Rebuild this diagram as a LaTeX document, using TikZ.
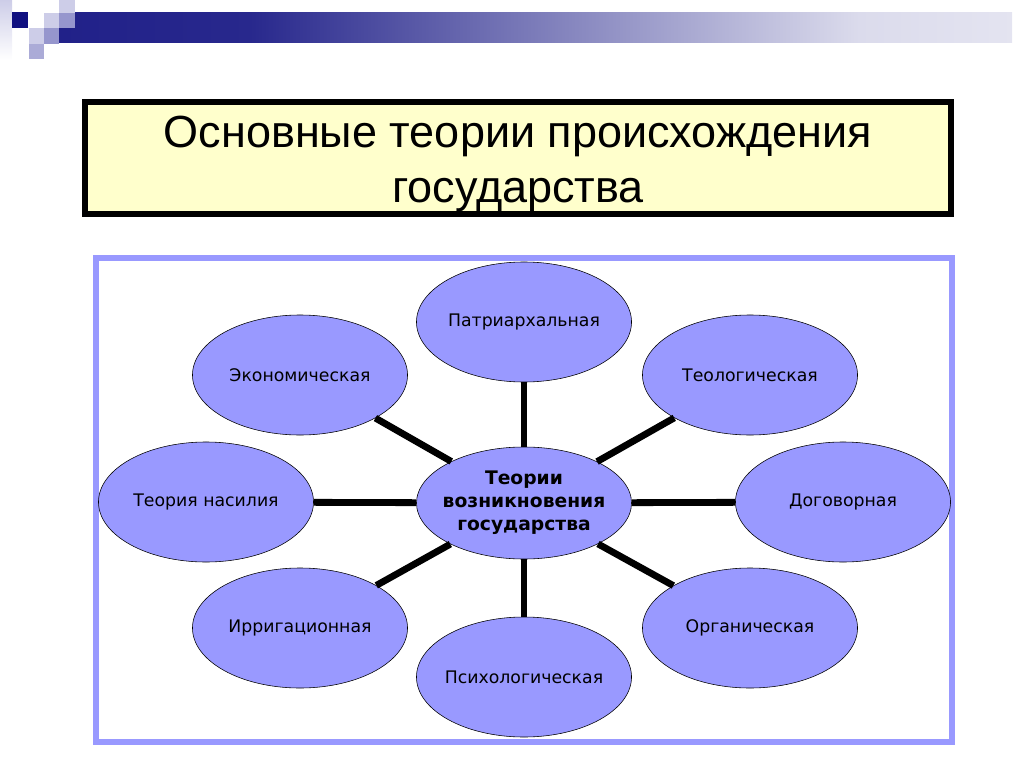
\documentclass[tikz,border=0pt]{standalone}
\usepackage{fontspec}
\setmainfont{Liberation Sans}
\newfontfamily\ovalfont{DejaVu Sans}
\usetikzlibrary{shapes.geometric}

\definecolor{decodark}{RGB}{16,16,128}
\definecolor{decomid}{RGB}{150,150,205}
\definecolor{decolight}{RGB}{205,205,232}
\definecolor{titlefill}{RGB}{255,255,204}
\definecolor{ovalfill}{RGB}{153,153,255}
\pgfdeclarehorizontalshading{decobar}{100bp}{color(0bp)=(decodark); color(35bp)=(decodark!90!white); color(67bp)=(decodark!15!white); color(100bp)=(white)}

\begin{document}
\begin{tikzpicture}[
    x=0.025cm, y=-0.025cm,
    theory/.style={ellipse, draw, fill=ovalfill, minimum width=5.375cm,
                   minimum height=3cm, inner sep=-6pt,
                   font=\ovalfont\fontsize{12.3}{14}\selectfont},
    link/.style={line width=0.17cm}
  ]
  \useasboundingbox (0,0) rectangle (1024,767);

  % Corner decoration
  \shade[top color=decolight, bottom color=white] (0,0) rectangle (12,60);
  \shade[shading=decobar] (59,13) rectangle (1012,43);
  \fill[decodark] (12,12) rectangle (28,28);
  \fill[decolight] (44,13) rectangle (59,28);
  \fill[decolight] (59,0) rectangle (75,13);
  \fill[decomid] (59,13) rectangle (75,28);
  \fill[decolight] (29,28) rectangle (44,44);
  \fill[decomid] (44,28) rectangle (59,44);
  \fill[decomid!80!white] (29,44) rectangle (44,59);

  % Title
  \node[draw, line width=0.15cm, fill=titlefill, minimum width=21.65cm,
        minimum height=2.8cm] (title) at (518,158) {};
  \node[align=center, font=\fontsize{32}{39}\selectfont] (titletext)
    at (518,164) {Основные теории происхождения\\государства};

  % Frame
  \draw[ovalfill, line width=0.16cm] (96,258) rectangle (952,742);

  % Theories
  \node[theory, minimum height=2.8cm,
        font=\ovalfont\bfseries\fontsize{13.3}{16.4}\selectfont, align=center]
    (core) at (524,503) {Теории\\возникновения\\государства};
  \node[theory] (patr)  at (524,322) {Патриархальная};
  \node[theory] (teol)  at (750,375) {Теологическая};
  \node[theory] (dogov) at (843,502) {Договорная};
  \node[theory] (organ) at (750,628) {Органическая};
  \node[theory] (psych) at (524,677) {Психологическая};
  \node[theory] (irrig) at (300,628) {Ирригационная};
  \node[theory] (nasil) at (206,502) {Теория насилия};
  \node[theory] (econ)  at (300,375) {Экономическая};

  % Links
  \foreach \t in {patr, teol, dogov, organ, psych, irrig, nasil, econ}
    \draw[link] (core) -- (\t);
\end{tikzpicture}
\end{document}
